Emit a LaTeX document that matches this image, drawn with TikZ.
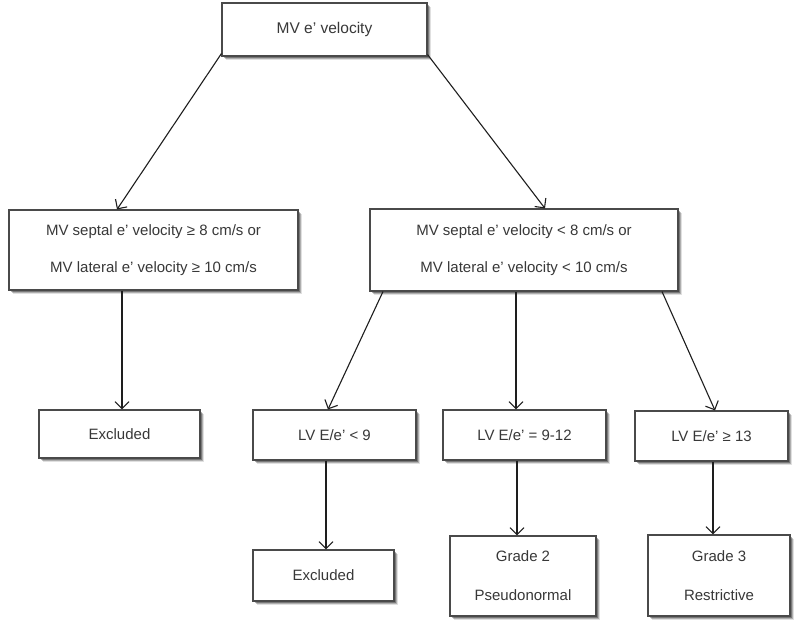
\documentclass[tikz,border=0pt]{standalone}
\usepackage{fontspec}
\setmainfont{Liberation Sans}
\usetikzlibrary{arrows.meta,shadows}
\definecolor{txt}{HTML}{383838}
\definecolor{edge}{HTML}{4A4A4A}
\definecolor{ln}{HTML}{1E1E1E}
\begin{document}
\begin{tikzpicture}[x=1pt,y=-1pt,
  box/.style={draw=edge, line width=1.1pt, fill=white, inner sep=0pt, text=txt,
    align=center, font={\fontsize{15}{18}\selectfont},
    drop shadow={shadow xshift=3.5pt, shadow yshift=-3.5pt, fill=black, opacity=0.12},
    drop shadow={shadow xshift=2.5pt, shadow yshift=-2.5pt, fill=black, opacity=0.22},
    drop shadow={shadow xshift=1.5pt, shadow yshift=-1.5pt, fill=black, opacity=0.3}},
  twoline/.style={font={\fontsize{15}{37}\selectfont}},
  twolineb/.style={font={\fontsize{15}{39}\selectfont}},
  arr/.style={draw=ln, line width=1.1pt, -{Straight Barb[length=7pt,width=14pt]}}]
\fill[white] (0,0) rectangle (800,624);
\useasboundingbox (0,0) rectangle (800,624);

\node[box, minimum width=205pt, minimum height=53pt, font={\fontsize{15.5}{18}\selectfont}] (top) at (324.5,29.5) {MV e' velocity};
\node[box, twoline, minimum width=289pt, minimum height=80pt] (L) at (153.5,250)
  {MV septal e' velocity ≥ 8 cm/s or\\MV lateral e' velocity ≥ 10 cm/s};
\node[box, twoline, minimum width=308pt, minimum height=82pt] (R) at (524,250)
  {MV septal e' velocity < 8 cm/s or\\MV lateral e' velocity < 10 cm/s};
\node[box, minimum width=161pt, minimum height=48pt] (exl) at (119.5,434) {Excluded};
\node[box, minimum width=163pt, minimum height=50pt] (b1) at (334.5,435) {LV E/e' < 9};
\node[box, minimum width=163pt, minimum height=50pt] (b2) at (524.5,435) {LV E/e' = 9-12};
\node[box, minimum width=153pt, minimum height=50pt] (b3) at (711.5,436) {LV E/e' ≥ 13};
\node[box, minimum width=141pt, minimum height=51pt] (ex2) at (323.5,575.5) {Excluded};
\node[box, twolineb, minimum width=146pt, minimum height=80pt] (g2) at (523,576) {Grade 2\\Pseudonormal};
\node[box, twolineb, minimum width=142pt, minimum height=81pt] (g3) at (719,575.5) {Grade 3\\Restrictive};

\draw[arr] ([yshift=3pt]top.south west) -- (117,0 |- L.north);
\draw[arr] ([yshift=2pt]top.south east) -- (545,0 |- R.north);
\draw[arr] (122,0 |- L.south) -- (122,0 |- exl.north);
\draw[arr] (383,0 |- R.south) -- (328,0 |- b1.north);
\draw[arr] (516,0 |- R.south) -- (516,0 |- b2.north);
\draw[arr] (662,0 |- R.south) -- (715,0 |- b3.north);
\draw[arr] (326,0 |- b1.south) -- (326,0 |- ex2.north);
\draw[arr] (517,0 |- b2.south) -- (517,0 |- g2.north);
\draw[arr] (713,0 |- b3.south) -- (713,0 |- g3.north);
\end{tikzpicture}
\end{document}
